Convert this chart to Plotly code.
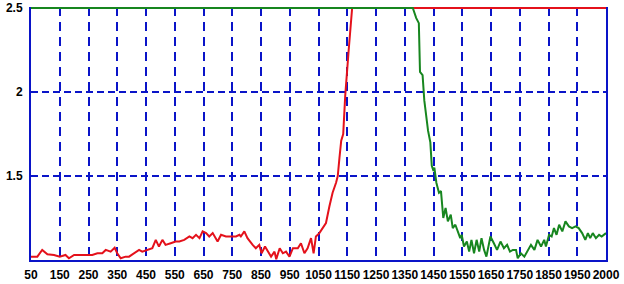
import plotly.graph_objects as go

# Red series
red_x = [50, 72, 89, 107, 130, 150, 170, 182, 200, 223, 246, 263, 281, 298, 310, 327, 341, 350, 362, 379,
         391, 408, 426, 437, 455, 472, 484, 495, 507, 518, 536, 553, 566, 583, 601, 612, 624, 636, 647, 659,
         670, 682, 699, 711, 728, 745, 763, 775, 780, 792, 803, 821, 832, 844, 852, 864, 876, 885, 897, 903,
         915, 926, 937, 949, 961, 978, 989, 1001, 1012, 1024, 1033, 1041, 1053, 1064, 1076, 1088, 1099, 1111,
         1117, 1123, 1129, 1136, 1143, 1155, 1167, 2050]
red_y = [1.02, 1.02, 1.06, 1.034, 1.03, 1.02, 1.03, 1.01, 1.03, 1.03, 1.03, 1.03, 1.04, 1.04, 1.06, 1.05, 1.073, 1.04, 1.01, 1.02,
         1.02, 1.04, 1.06, 1.05, 1.06, 1.07, 1.12, 1.08, 1.12, 1.09, 1.10, 1.11, 1.11, 1.12, 1.14, 1.13, 1.15, 1.13, 1.17, 1.16,
         1.14, 1.16, 1.11, 1.15, 1.14, 1.14, 1.14, 1.15, 1.14, 1.17, 1.13, 1.09, 1.07, 1.09, 1.04, 1.08, 1.05, 1.02, 1.05, 1.005,
         1.07, 1.04, 1.05, 1.02, 1.07, 1.07, 1.10, 1.04, 1.07, 1.13, 1.04, 1.14, 1.16, 1.19, 1.22, 1.32, 1.40, 1.46,
         1.50, 1.61, 1.71, 1.75, 1.98, 2.25, 2.5, 2.5]

# Green series
green_x = [50, 1378, 1390, 1399, 1403, 1412, 1418, 1431, 1439, 1444, 1450, 1453, 1460, 1469, 1476, 1484, 1492, 1500,
           1510, 1517, 1526, 1534, 1543, 1548, 1556, 1566, 1574, 1582, 1591, 1600, 1609, 1617, 1626, 1634, 1642,
           1648, 1660, 1671, 1683, 1695, 1706, 1716, 1726, 1737, 1743, 1754, 1766, 1778, 1789, 1801, 1812, 1824,
           1835, 1841, 1852, 1861, 1869, 1878, 1887, 1898, 1909, 1921, 1932, 1944, 1955, 1967, 1978, 1987, 1995,
           2004, 2015, 2026, 2035, 2050]
green_y = [2.5, 2.5, 2.44, 2.41, 2.12, 2.10, 1.95, 1.77, 1.70, 1.56, 1.53, 1.55, 1.46, 1.40, 1.41, 1.25, 1.31, 1.23,
           1.27, 1.19, 1.21, 1.17, 1.13, 1.15, 1.08, 1.11, 1.05, 1.12, 1.04, 1.12, 1.05, 1.13, 1.06, 1.02, 1.08,
           1.14, 1.10, 1.06, 1.11, 1.07, 1.09, 1.05, 1.06, 1.06, 1.01, 1.04, 1.02, 1.06, 1.09, 1.06, 1.12, 1.08,
           1.12, 1.08, 1.15, 1.14, 1.19, 1.15, 1.21, 1.17, 1.23, 1.20, 1.19, 1.20, 1.19, 1.16, 1.12, 1.16, 1.13,
           1.16, 1.13, 1.15, 1.14, 1.16]

# Tick labels
x_tickvals = list(range(50, 2051, 100))
x_ticktext = [str(v) for v in range(50, 1951, 100)] + ["2000"]
y_tickvals = [1.5, 2, 2.5]
y_ticktext = ["1.5", "2", "2.5"]

fig = go.Figure()
fig.add_trace(go.Scatter(x=red_x, y=red_y, mode="lines",
                         line=dict(color="#e4111b", width=2), showlegend=False))
fig.add_trace(go.Scatter(x=green_x, y=green_y, mode="lines",
                         line=dict(color="#17861f", width=2), showlegend=False))

tickfont = dict(family="Liberation Sans Narrow, Liberation Sans, Arial, sans-serif", size=12, color="black", weight="bold")

fig.update_layout(
    width=624, height=284,
    margin=dict(l=31, r=18, t=7, b=24, autoexpand=False),
    paper_bgcolor="white", plot_bgcolor="white",
    showlegend=False,
    xaxis=dict(range=[50, 2050], tickvals=x_tickvals, ticktext=x_ticktext, tickangle=0,
               showgrid=True, gridcolor="#0a14c8", griddash="9px,6px", gridwidth=2,
               showline=True, linecolor="#0a14c8", linewidth=2, mirror=False,
               zeroline=False, ticks="", tickfont=tickfont, ticklabelstandoff=3,
               automargin=False, layer="below traces"),
    yaxis=dict(range=[1.0, 2.506], tickvals=y_tickvals, ticktext=y_ticktext,
               showgrid=True, gridcolor="#0a14c8", griddash="7px,4px", gridwidth=2,
               showline=True, linecolor="#0a14c8", linewidth=2, mirror=True,
               zeroline=False, ticks="", tickfont=tickfont, ticklabelstandoff=4,
               automargin=False, layer="below traces"),
)

fig.write_html("out.html", config={"displayModeBar": False},
               post_script="document.body.style.margin='0';document.body.style.overflow='hidden';")
